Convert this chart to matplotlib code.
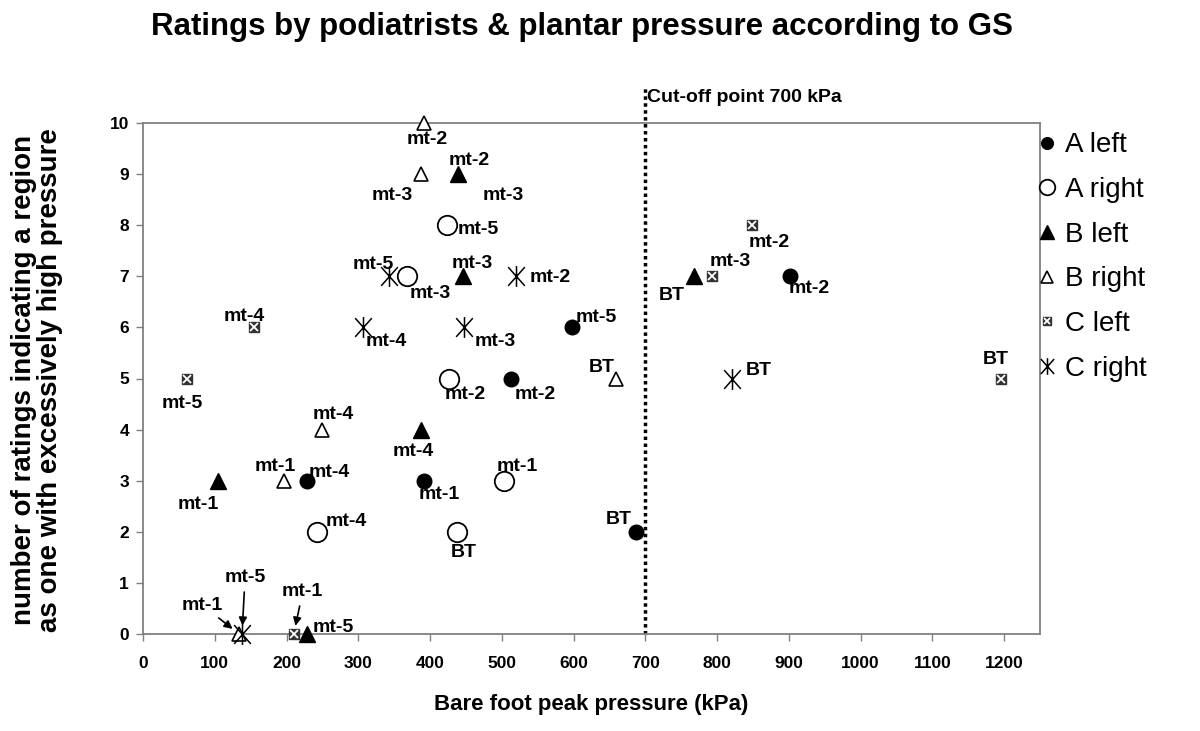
import matplotlib
matplotlib.use('Agg')
import matplotlib.pyplot as plt
from matplotlib.path import Path

plt.rcParams['font.family'] = ['Liberation Sans', 'DejaVu Sans']

# data: bare foot peak pressure (kPa) vs number of ratings
a_left_x = [598, 513, 392, 228, 687, 902]
a_left_y = [6, 5, 3, 3, 2, 7]
a_left_lab = ['mt-5', 'mt-2', 'mt-1', 'mt-4', 'BT', 'mt-2']

a_right_x = [423, 368, 427, 503, 242, 438]
a_right_y = [8, 7, 5, 3, 2, 2]
a_right_lab = ['mt-5', 'mt-3', 'mt-2', 'mt-1', 'mt-4', 'BT']

b_left_x = [104, 439, 446, 388, 768, 228]
b_left_y = [3, 9, 7, 4, 7, 0]
b_left_lab = ['mt-1', 'mt-2', 'mt-3', 'mt-4', 'BT', 'mt-5']

b_right_x = [391, 388, 250, 196, 659, 134]
b_right_y = [10, 9, 4, 3, 5, 0]
b_right_lab = ['mt-2', 'mt-3', 'mt-4', 'mt-1', 'BT', 'mt-1']

c_left_x = [62, 155, 848, 793, 1196, 210]
c_left_y = [5, 6, 8, 7, 5, 0]
c_left_lab = ['mt-5', 'mt-4', 'mt-2', 'mt-3', 'BT', 'mt-1']

c_right_x = [343, 520, 307, 448, 821, 138]
c_right_y = [7, 7, 6, 6, 5, 0]
c_right_lab = ['mt-5', 'mt-2', 'mt-4', 'mt-3', 'BT', 'mt-5']

cutoff = 700
x_ticks = list(range(0, 1300, 100))
y_ticks = list(range(0, 11))

# label offsets in pixels (dx right, dy down); None -> arrow label
off_a_left = [(24, -10), (24, 16), (15, 14), (23, -8), (-17, -12), (19, 12)]
off_a_right = [(32, 4), (23, 17), (16, 16), (13, -14), (30, -10), (6, 21)]
off_b_left = [(-19, 24), (11, -14), (9, -13), (-8, 22), (-22, 19), (27, -6)]
off_b_right = [(4, 17), (-29, 21), (11, -15), (-8, -14), (-14, -11), None]
off_c_left = [(-5, 25), (-10, -11), (18, 17), (18, -15), (-5, -19), None]
off_c_right = [(-16, -12), (34, 1), (23, 14), (31, 14), (27, -8), None]
arrow_off = {'b_right': (-37, -29), 'c_left': (9, -42), 'c_right': (3, -56)}

fig = plt.figure(figsize=(12, 7.31), dpi=100)
ax = fig.add_axes([143 / 1200, 1 - 634 / 731, (1040 - 143) / 1200, (634 - 123) / 731])

star = Path([(0, -1), (0, 1), (-0.8, -0.9), (0.8, 0.9), (-0.8, 0.9), (0.8, -0.9)],
            [Path.MOVETO, Path.LINETO] * 3)

h1, = ax.plot(a_left_x, a_left_y, 'o', color='black', ms=10.5, clip_on=False, zorder=3)
h2, = ax.plot(a_right_x, a_right_y, 'o', mfc='white', mec='black', mew=1.3, ms=14, clip_on=False, zorder=3)
h3, = ax.plot(b_left_x, b_left_y, '^', color='black', ms=12, clip_on=False, zorder=3)
h4, = ax.plot(b_right_x, b_right_y, '^', mfc='white', mec='black', mew=1.2, ms=10.5, clip_on=False, zorder=3)
h5a, = ax.plot(c_left_x, c_left_y, 's', color='#333333', ms=7.5, clip_on=False, zorder=3)
h5b, = ax.plot(c_left_x, c_left_y, 'x', color='white', mew=1.3, ms=5.5, clip_on=False, zorder=4)
h6, = ax.plot(c_right_x, c_right_y, marker=star, ls='none', mfc='none', mec='black', mew=1.1, ms=15,
              clip_on=False, zorder=3)

lab_kw = dict(textcoords='offset pixels', ha='center', va='center', fontsize=14, fontweight='bold')
series = [
    ('a_left', a_left_x, a_left_y, a_left_lab, off_a_left),
    ('a_right', a_right_x, a_right_y, a_right_lab, off_a_right),
    ('b_left', b_left_x, b_left_y, b_left_lab, off_b_left),
    ('b_right', b_right_x, b_right_y, b_right_lab, off_b_right),
    ('c_left', c_left_x, c_left_y, c_left_lab, off_c_left),
    ('c_right', c_right_x, c_right_y, c_right_lab, off_c_right),
]
for name, xs, ys, labs, offs in series:
    for x, y, t, o in zip(xs, ys, labs, offs):
        if o is None:
            dx, dy = arrow_off[name]
            ax.annotate(t, (x, y), xytext=(dx, -dy), annotation_clip=False,
                        arrowprops=dict(arrowstyle='-|>', color='black', lw=1.2,
                                        mutation_scale=12, shrinkA=2, shrinkB=6),
                        **lab_kw)
        else:
            ax.annotate(t, (x, y), xytext=(o[0], -o[1]), annotation_clip=False, **lab_kw)

# stray label next to the B left point at 9
ax.annotate('mt-3', (b_left_x[1], b_left_y[1]), xytext=(45, -21), annotation_clip=False, **lab_kw)

# cut-off line
ax.plot([cutoff, cutoff], [0, 10.7], color='black', lw=2.5, ls=(0, (1, 1)), clip_on=False, zorder=2)
ax.text(cutoff + 3, 10.49, 'Cut-off point 700 kPa', ha='left', va='center', fontsize=14, fontweight='bold')

ax.set_xlim(0, 1250)
ax.set_ylim(0, 10)
ax.set_xticks(x_ticks)
ax.set_yticks(y_ticks)
for s in ax.spines.values():
    s.set_color('#808080')
    s.set_linewidth(1.3)
ax.tick_params(colors='#808080', length=5, width=1, labelcolor='black', labelsize=12.5)
ax.tick_params(axis='x', pad=11)
ax.tick_params(axis='y', pad=5)
for lbl in ax.get_xticklabels() + ax.get_yticklabels():
    lbl.set_fontweight('bold')

ax.set_xlabel('Bare foot peak pressure (kPa)', fontsize=16, fontweight='bold')
ax.xaxis.set_label_coords(0.5, -0.118)
fig.text(37 / 1200, 1 - 380 / 731,
         'number of ratings indicating a region\nas one with excessively high pressure',
         rotation=90, ha='center', va='center', fontsize=20, fontweight='bold', linespacing=1.0)
fig.text(582 / 1200, 1 - 27 / 731, 'Ratings by podiatrists & plantar pressure according to GS',
         ha='center', va='center', fontsize=22.5, fontweight='bold')

fig.legend([h1, h2, h3, h4, (h5a, h5b), h6],
           ['A left', 'A right', 'B left', 'B right', 'C left', 'C right'],
           loc='upper left', bbox_to_anchor=(0.842, 0.853), frameon=False, fontsize=20,
           handlelength=0.8, handletextpad=0.25, labelspacing=0.67, borderpad=0.4, markerscale=0.8)

fig.savefig('out.png', dpi=100)
